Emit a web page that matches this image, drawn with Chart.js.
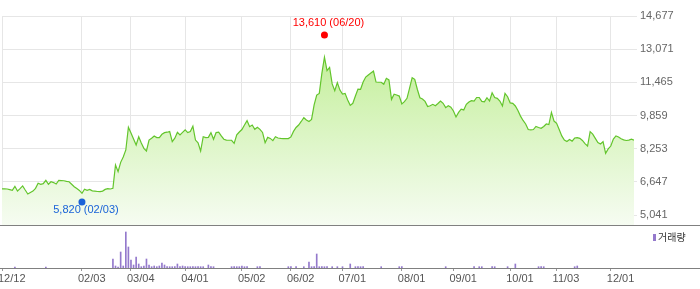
<!DOCTYPE html>
<html>
<head>
<meta charset="utf-8">
<script src="https://cdn.jsdelivr.net/npm/chart.js@4"></script>
<style>
  html, body { margin: 0; padding: 0; background: #fff; }
  #wrap { position: relative; width: 700px; height: 289px; }
  canvas { position: absolute; left: 0; }
  #price { top: 0; }
  #volume { top: 226px; }
</style>
</head>
<body>
<div id="wrap">
  <canvas id="price" width="700" height="226"></canvas>
  <canvas id="volume" width="700" height="63"></canvas>
</div>
<script>
// daily closing prices, 12/12 .. 12/12 (one per trading day)
const prices = [
  6310, 6310, 6300, 6270, 6240, 6430, 6200, 6320, 6450, 6250,
  6060, 6130, 6200, 6330, 6580, 6530, 6560, 6720, 6530, 6650,
  6610, 6540, 6720, 6710, 6700, 6670, 6650, 6530, 6410, 6320,
  6230, 6090, 6290, 6240, 6280, 6210, 6200, 6180, 6170, 6200,
  6280, 6320, 6300, 6330, 7460, 7140, 7590, 7850, 8190, 9290,
  9010, 8720, 8430, 8830, 8530, 8270, 8140, 8670, 8760, 8870,
  8790, 8790, 8950, 9030, 9050, 9080, 8590, 8760, 9050, 8920,
  9040, 9160, 9030, 9080, 9340, 8670, 8540, 8140, 8830, 8790,
  8800, 9030, 8710, 9030, 9050, 8870, 8710, 8670, 8660, 8660,
  8510, 8920, 9060, 9180, 9400, 9610, 9320, 9400, 9190, 9290,
  9190, 9040, 8540, 8800, 8750, 8640, 8830, 8770, 8750, 8740,
  8740, 8740, 8820, 9090, 9280, 9400, 9570, 9750, 9640, 9570,
  9670, 10370, 10850, 10930, 11900, 12680, 12030, 12190, 11390, 11060,
  11450, 11090, 10900, 10930, 10610, 10350, 10450, 10800, 11140, 11130,
  11480, 11720, 11820, 11920, 12010, 11480, 11470, 11470, 11370, 11660,
  11580, 10640, 10890, 10850, 10800, 10420, 10530, 10690, 11180, 11690,
  11610, 11130, 10720, 10660, 10540, 10290, 10330, 10400, 10330, 10440,
  10560, 10450, 10240, 10330, 10260, 10080, 9790, 10010, 10170, 10130,
  10400, 10510, 10580, 10560, 10730, 10730, 10540, 10520, 10720, 10560,
  10960, 10730, 10690, 10560, 10320, 10930, 10770, 10470, 10450, 10320,
  10100, 9830, 9620, 9450, 9180, 9160, 9180, 9330, 9280, 9240,
  9330, 9450, 9420, 10010, 9590, 9480, 9180, 8870, 8670, 8600,
  8700, 8620, 8770, 8790, 8750, 8650, 8500, 8380, 9080, 8960,
  8750, 8550, 8480, 8590, 8030, 8240, 8380, 8720, 8870, 8820,
  8730, 8680, 8650, 8670, 8710, 8670
];

// x ticks (index of trading day) and their labels
const tickIdx = [0, 31, 50, 71, 93, 112, 132, 155, 175, 197, 215, 236];
const tickLabels = ["12/12", "02/03", "03/04", "04/01", "05/02", "06/02",
  "07/01", "08/01", "09/01", "10/01", "11/03", "12/01"];

const yTicks = [5041, 6647, 8253, 9859, 11465, 13071, 14677];

// trading volume (only days with a visible bar)
const volIdx = [5, 17, 43, 44, 45, 46, 47, 48, 49, 50, 51, 52, 53, 54, 55, 56,
  57, 58, 59, 60, 61, 62, 63, 64, 65, 66, 67, 68, 69, 70, 71, 72, 73, 74, 75,
  76, 77, 78, 80, 81, 82, 89, 90, 91, 92, 93, 94, 95, 99, 100, 111, 112, 114,
  117, 119, 120, 121, 122, 123, 124, 125, 126, 128, 130, 132, 135, 137, 138,
  139, 140, 147, 154, 155, 172, 183, 185, 186, 190, 191, 196, 199, 208, 209,
  210, 222, 223, 227];
const volumes = [40000, 40000, 360000, 80000, 40000, 640000, 80000, 1440000,
  840000, 320000, 120000, 440000, 160000, 52000, 80000, 360000, 120000, 52000,
  80000, 52000, 80000, 200000, 120000, 52000, 52000, 52000, 52000, 160000,
  52000, 80000, 52000, 52000, 52000, 52000, 52000, 52000, 52000, 52000,
  120000, 52000, 52000, 52000, 52000, 52000, 52000, 80000, 52000, 52000,
  52000, 52000, 52000, 52000, 52000, 52000, 240000, 52000, 52000, 560000,
  52000, 52000, 52000, 52000, 52000, 52000, 52000, 160000, 52000, 52000,
  52000, 52000, 52000, 52000, 52000, 52000, 52000, 52000, 52000, 52000,
  52000, 52000, 160000, 52000, 52000, 52000, 52000, 80000];

// high / low markers
const markerIdx = [125, 31];
const markerVals = [13610, 5820];
const markerText = ["13,610 (06/20)", "5,820 (02/03)"];
const markerColors = ["#ff0000", "#1a63d8"];

Chart.defaults.font.family = '"Liberation Sans", Arial, sans-serif';
Chart.defaults.font.size = 11;

const lastIdx = prices.length - 1;

const bottomLine = {
  id: "bottomLine",
  afterDraw(chart) {
    const { ctx, chartArea } = chart;
    ctx.save();
    ctx.strokeStyle = "#808080";
    ctx.lineWidth = 1;
    ctx.beginPath();
    ctx.moveTo(0, chartArea.bottom + 0.5);
    ctx.lineTo(chart.width, chartArea.bottom + 0.5);
    ctx.stroke();
    ctx.restore();
  },
};

const markers = {
  id: "markers",
  afterDatasetsDraw(chart) {
    const { ctx, scales } = chart;
    markerIdx.forEach((idx, k) => {
      const up = k === 0;
      const px = scales.x.getPixelForValue(idx);
      const py = scales.y.getPixelForValue(markerVals[k]) + (up ? -3 : 3);
      ctx.save();
      ctx.fillStyle = markerColors[k];
      ctx.beginPath();
      ctx.arc(px, py, 3.5, 0, Math.PI * 2);
      ctx.fill();
      ctx.font = '11px "Liberation Sans", Arial, sans-serif';
      ctx.textAlign = "center";
      ctx.textBaseline = "middle";
      ctx.fillText(markerText[k], px + 4, up ? py - 12.5 : py + 8.5);
      ctx.restore();
    });
  },
};

new Chart(document.getElementById("price"), {
  type: "line",
  data: {
    datasets: [
      {
        data: prices.map((p, i) => ({ x: i, y: p })),
        borderColor: "#63c52c",
        borderWidth: 1.2,
        pointRadius: 0,
        tension: 0,
        fill: "start",
        backgroundColor: (c) => {
          const a = c.chart.chartArea;
          if (!a) return "rgba(0,0,0,0)";
          const g = c.chart.ctx.createLinearGradient(0, a.top, 0, a.bottom);
          g.addColorStop(0, "#b9ec88");
          g.addColorStop(1, "#f6fcf2");
          return g;
        },
      },
    ],
  },
  options: {
    responsive: false,
    animation: false,
    events: [],
    layout: { padding: { left: 2, top: 16, right: 0, bottom: 1 } },
    plugins: { legend: { display: false }, tooltip: { enabled: false } },
    scales: {
      x: {
        type: "linear",
        min: 0,
        max: lastIdx,
        afterBuildTicks: (s) => { s.ticks = tickIdx.map((v) => ({ value: v })); },
        ticks: { display: false },
        grid: { color: "#e6e6e6", drawTicks: false },
        border: { display: false },
        afterFit: (s) => { s.height = 0; s.paddingLeft = 0; s.paddingRight = 0; },
      },
      y: {
        position: "right",
        min: 4557,
        max: 14677,
        afterBuildTicks: (s) => { s.ticks = yTicks.map((v) => ({ value: v })); },
        ticks: {
          color: "#666",
          padding: 3,
          callback: (v) => v.toLocaleString("en-US"),
        },
        grid: { color: "#e6e6e6", tickLength: 3 },
        border: { display: false },
        afterFit: (s) => { s.width = 66; s.paddingTop = 0; s.paddingBottom = 0; },
      },
    },
  },
  plugins: [markers, bottomLine],
});

const volLegend = {
  id: "volLegend",
  afterDraw(chart) {
    const { ctx } = chart;
    ctx.save();
    ctx.fillStyle = "#9479cc";
    ctx.fillRect(653, 8, 3, 7);
    ctx.fillStyle = "#333";
    ctx.font = '10px "Noto Sans CJK KR", sans-serif';
    ctx.textBaseline = "middle";
    ctx.fillText("거래량", 658, 11.5);
    ctx.restore();
  },
};

new Chart(document.getElementById("volume"), {
  type: "bar",
  data: {
    datasets: [
      {
        data: volIdx.map((v, k) => ({ x: v, y: volumes[k] })),
        backgroundColor: "#9479cc",
        barThickness: 1,
      },
    ],
  },
  options: {
    responsive: false,
    animation: false,
    events: [],
    layout: { padding: { left: 2, right: 66, top: 3, bottom: 0 } },
    plugins: { legend: { display: false }, tooltip: { enabled: false } },
    scales: {
      x: {
        type: "linear",
        min: 0,
        max: lastIdx,
        offset: false,
        afterBuildTicks: (s) => { s.ticks = tickIdx.map((v) => ({ value: v })); },
        ticks: {
          callback: (v) => tickLabels[tickIdx.indexOf(v)],
          align: "start",
          labelOffset: -4,
          color: "#555",
          padding: 1,
          maxRotation: 0,
          minRotation: 0,
          autoSkip: false,
        },
        grid: { drawOnChartArea: false, offset: false, tickLength: 3, color: "#999" },
        border: { display: false },
        afterFit: (s) => { s.height = 21; s.paddingLeft = 0; s.paddingRight = 0; },
      },
      y: { display: false, min: 0, max: 1560000 },
    },
  },
  plugins: [bottomLine, volLegend],
});
</script>
</body>
</html>
